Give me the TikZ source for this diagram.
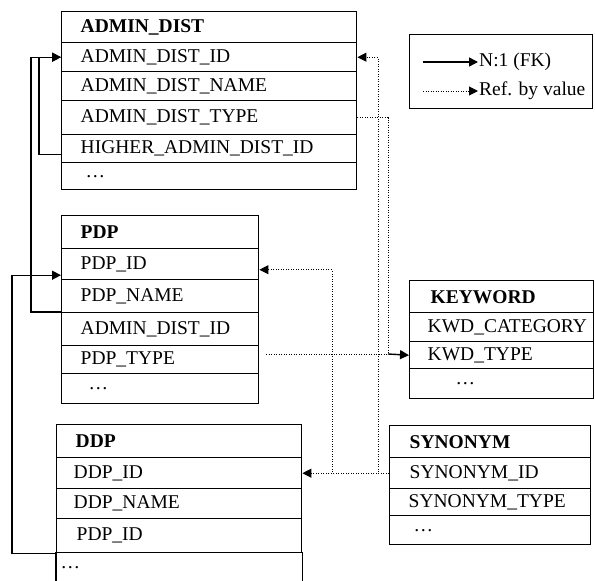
\documentclass[tikz,border=0pt]{standalone}
\usepackage{fontspec}
\setmainfont{Liberation Serif}
\usetikzlibrary{arrows.meta}

\tikzstyle{field}=[
    draw,
    line width = 1.4pt,
    anchor = north west,
    inner ysep = 0pt,
    align = left,
    font = \fontsize{19.5}{22}\selectfont
]
\tikzstyle{ad field}=[field, inner xsep = 19pt, text width = 257pt]
\tikzstyle{pdp field}=[field, inner xsep = 19pt, text width = 159pt]
\tikzstyle{kw field}=[field, inner xsep = 18pt, text width = 148pt]
\tikzstyle{ddp field}=[field, inner xsep = 17pt, text width = 211pt]
\tikzstyle{syn field}=[field, inner xsep = 20pt, text width = 161pt]
\tikzstyle{legend text}=[
    anchor = west,
    inner xsep = 1pt,
    font = \fontsize{19.5}{22}\selectfont
]

\begin{document}
\begin{tikzpicture}[x=1pt, y=-1pt,
    fk/.style = {line width=1.4pt, -{Triangle[length=9pt, width=9pt]}},
    ref line/.style = {line width=1pt, dash pattern=on 1pt off 1.5pt},
    ref/.style = {ref line, -{Triangle[length=9pt, width=9pt]}}]
        \useasboundingbox (0,0) rectangle (595,581);

        % ADMIN_DIST
        \node[ad field, minimum height=31pt] (ad) at (61,11) {\textbf{ADMIN\_DIST}};
        \node[ad field, minimum height=29pt] (ad-id) at (61,42) {ADMIN\_DIST\_ID};
        \node[ad field, minimum height=29pt] (ad-name) at (61,71) {ADMIN\_DIST\_NAME};
        \node[ad field, minimum height=34pt] (ad-type) at (61,100) {ADMIN\_DIST\_TYPE};
        \node[ad field, minimum height=28pt] (ad-higher) at (61,134) {HIGHER\_ADMIN\_DIST\_ID};
        \node[ad field, minimum height=27pt, inner xsep=24pt, text width=247pt] (ad-more) at (61,162) {…};

        % PDP
        \node[pdp field, minimum height=33pt] (pdp) at (61,215) {\textbf{PDP}};
        \node[pdp field, minimum height=31pt] (pdp-id) at (61,248) {PDP\_ID};
        \node[pdp field, minimum height=33pt] (pdp-name) at (61,279) {PDP\_NAME};
        \node[pdp field, minimum height=33pt] (pdp-adid) at (61,312) {ADMIN\_DIST\_ID};
        \node[pdp field, minimum height=28pt] (pdp-type) at (61,345) {PDP\_TYPE};
        \node[pdp field, minimum height=30pt, inner xsep=27pt, text width=143pt] (pdp-more) at (61,373) {…};

        % KEYWORD
        \node[kw field, minimum height=32pt, inner xsep=21pt, text width=142pt] (kw) at (409,280) {\textbf{KEYWORD}};
        \node[kw field, minimum height=29pt] (kw-cat) at (409,312) {KWD\_CATEGORY};
        \node[kw field, minimum height=27pt] (kw-type) at (409,341) {KWD\_TYPE};
        \node[kw field, minimum height=30pt, inner xsep=46pt, text width=92pt] (kw-more) at (409,368) {…};

        % DDP
        \node[ddp field, minimum height=33pt, inner xsep=19pt, text width=207pt] (ddp) at (56,424) {\textbf{DDP}};
        \node[ddp field, minimum height=31pt] (ddp-id) at (56,457) {DDP\_ID};
        \node[ddp field, minimum height=30pt] (ddp-name) at (56,488) {DDP\_NAME};
        \node[ddp field, minimum height=34pt, inner xsep=20pt, text width=205pt] (ddp-pid) at (56,518) {PDP\_ID};
        \node[ddp field, draw=none, minimum height=29pt, inner xsep=4pt, text width=237pt] (ddp-more) at (56,552) {…};
        \draw[line width=1.4pt] (ddp-more.north west) -- (ddp-more.south west)
            (ddp-more.north east) -- (ddp-more.south east);

        % SYNONYM
        \node[syn field, minimum height=32pt] (syn) at (389,425) {\textbf{SYNONYM}};
        \node[syn field, minimum height=31pt] (syn-id) at (389,457) {SYNONYM\_ID};
        \node[syn field, minimum height=27pt, inner xsep=19pt, text width=163pt] (syn-type) at (389,488) {SYNONYM\_TYPE};
        \node[syn field, minimum height=29pt, inner xsep=24pt, text width=153pt] (syn-more) at (389,515) {…};

        % legend
        \node[draw, line width=1.4pt, inner sep=0pt, minimum width=183pt, minimum height=74pt, anchor=north west] (legend) at (409,34) {};
        \node[legend text] (fk-txt) at (478,62) {N:1 (FK)};
        \node[legend text] (ref-txt) at (478,91) {Ref. by value};
        \coordinate (fk-from) at (423,62);
        \coordinate (ref-from) at (423,91);
        \draw[fk] (fk-from) -- (fk-txt.west);
        \draw[ref] (ref-from) -- (ref-txt.west);

        % foreign keys
        \draw[fk] ([yshift=-6pt]ad-higher.west) -- ++(-22,0) |- (ad-id.west);
        \draw[fk] (pdp-adid.north west) -- ++(-30,0) |- (ad-id.west);
        \draw[fk] (ddp-pid.south west) -- ++(-44,0) |- ([yshift=-11pt]pdp-id.west);

        % references by value
        \coordinate (kw-join) at (388,354);
        \coordinate (split-ad) at (378,472);
        \coordinate (split-pdp) at (332,472);
        \draw[ref line] (ad-type.east) -| (kw-join);
        \draw[ref line] ([xshift=7pt]kw-join -| pdp-type.east) -- (kw-join);
        \draw[fk] (kw-join) -- (kw-type.west);
        \draw[ref] (syn-id.west) -- (ddp-id.east);
        \draw[ref] (split-pdp) |- ([yshift=-5.5pt]pdp-id.east);
        \draw[ref] (split-ad) |- (ad-id.east);

    \end{tikzpicture}
\end{document}
